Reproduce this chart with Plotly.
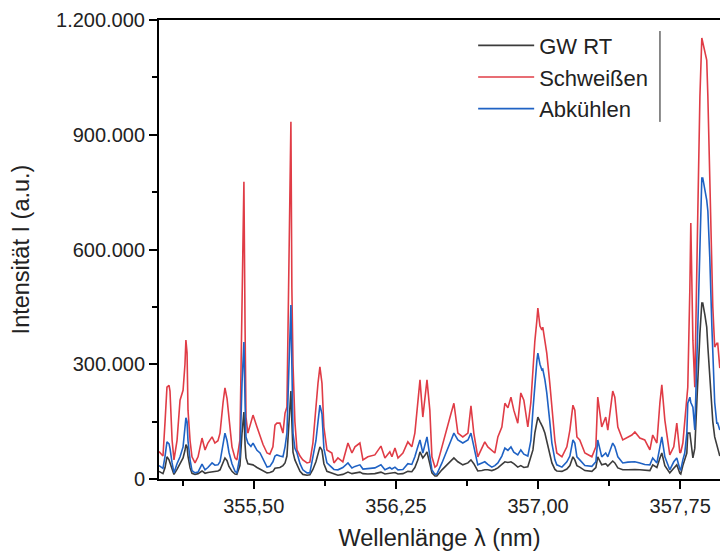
import plotly.graph_objects as go
import numpy as np

# Wavelength grid (nm)
wavelength = [
    355.000, 355.011, 355.021, 355.032, 355.042, 355.053, 355.058, 355.069, 355.079, 355.095,
    355.111, 355.127, 355.137, 355.142, 355.148, 355.153, 355.164, 355.174, 355.190, 355.206,
    355.227, 355.243, 355.258, 355.280, 355.295, 355.311, 355.322, 355.338, 355.348, 355.359,
    355.369, 355.385, 355.401, 355.411, 355.427, 355.438, 355.448, 355.454, 355.459, 355.469,
    355.485, 355.496, 355.517, 355.533, 355.549, 355.570, 355.585, 355.601, 355.612, 355.622,
    355.638, 355.654, 355.665, 355.675, 355.686, 355.696, 355.701, 355.707, 355.717, 355.728,
    355.744, 355.759, 355.781, 355.796, 355.812, 355.828, 355.839, 355.849, 355.860, 355.870,
    355.886, 355.912, 355.923, 355.944, 355.970, 355.997, 356.018, 356.034, 356.060, 356.076,
    356.102, 356.139, 356.171, 356.192, 356.218, 356.229, 356.245, 356.261, 356.287, 356.313,
    356.334, 356.350, 356.366, 356.377, 356.392, 356.403, 356.414, 356.429, 356.440, 356.456,
    356.466, 356.493, 356.524, 356.540, 356.556, 356.577, 356.603, 356.630, 356.646, 356.661,
    356.682, 356.704, 356.719, 356.735, 356.756, 356.772, 356.788, 356.809, 356.825, 356.841,
    356.857, 356.872, 356.893, 356.909, 356.925, 356.946, 356.962, 356.973, 356.983, 356.994,
    356.999, 357.010, 357.020, 357.025, 357.036, 357.046, 357.062, 357.073, 357.089, 357.099,
    357.126, 357.152, 357.168, 357.184, 357.194, 357.205, 357.220, 357.247, 357.284, 357.305,
    357.315, 357.336, 357.357, 357.368, 357.394, 357.405, 357.421, 357.447, 357.474, 357.495,
    357.511, 357.537, 357.563, 357.590, 357.605, 357.627, 357.643, 357.653, 357.669, 357.695,
    357.716, 357.732, 357.748, 357.753, 357.764, 357.774, 357.785, 357.790, 357.801, 357.806,
    357.817, 357.827, 357.843, 357.854, 357.864, 357.869, 357.880, 357.890, 357.896, 357.906,
    357.917, 357.922, 357.932, 357.943, 357.948, 357.959,
]

# Intensities in thousands of counts
gw_rt_k = [
    20, 16, 14, 30, 58, 50, 42, 29, 12, 25,
    42, 55, 75, 90, 85, 60, 29, 15, 12, 14,
    21, 15, 17, 18, 20, 21, 24, 45, 55, 48,
    33, 20, 13, 12, 35, 120, 175, 90, 55, 40,
    38, 37, 30, 26, 20, 16, 17, 20, 28, 29,
    30, 35, 42, 60, 160, 230, 150, 70, 50, 37,
    20, 12, 10, 11, 25, 45, 65, 84, 75, 40,
    20, 15, 12, 10, 12, 18, 14, 16, 18, 14,
    13, 14, 18, 13, 15, 14, 17, 13, 14, 20,
    19, 30, 50, 71, 55, 62, 71, 40, 16, 8,
    8, 24, 40, 48, 55, 45, 37, 42, 50, 40,
    21, 22, 24, 24, 22, 25, 29, 38, 45, 43,
    45, 40, 31, 35, 30, 32, 60, 76, 120, 150,
    162, 150, 141, 135, 120, 97, 65, 42, 25, 21,
    20, 26, 35, 58, 50, 35, 31, 22, 20, 30,
    58, 37, 40, 34, 47, 42, 29, 24, 24, 25,
    25, 24, 23, 22, 37, 30, 55, 68, 35, 16,
    28, 37, 15, 13, 35, 50, 68, 120, 120, 100,
    55, 80, 277, 380, 460, 460, 430, 397, 345, 277,
    206, 150, 110, 90, 84, 60,
]

schweissen_k = [
    72, 65, 60, 150, 240, 245, 230, 102, 50, 100,
    206, 232, 300, 363, 330, 180, 100, 58, 42, 58,
    107, 76, 94, 110, 94, 100, 120, 200, 238, 210,
    160, 84, 55, 50, 102, 500, 777, 400, 162, 120,
    150, 167, 136, 110, 90, 68, 65, 84, 141, 146,
    146, 120, 172, 188, 600, 934, 500, 300, 150, 76,
    60, 50, 42, 44, 94, 200, 251, 293, 250, 136,
    76, 68, 42, 55, 45, 94, 68, 84, 94, 50,
    58, 63, 86, 55, 71, 58, 81, 55, 68, 97,
    84, 120, 200, 259, 162, 220, 259, 180, 58, 31,
    35, 84, 146, 170, 198, 120, 110, 120, 191, 120,
    58, 84, 97, 84, 76, 68, 110, 136, 198, 186,
    214, 180, 146, 225, 206, 136, 200, 293, 360, 416,
    447, 400, 390, 397, 360, 329, 250, 180, 100, 68,
    58, 84, 128, 193, 180, 110, 102, 68, 58, 84,
    214, 136, 162, 128, 230, 214, 136, 102, 110, 115,
    123, 107, 102, 76, 115, 94, 200, 246, 154, 63,
    84, 146, 68, 70, 94, 150, 206, 240, 500, 669,
    363, 240, 700, 1000, 1153, 1140, 1120, 1095, 1000, 800,
    550, 450, 345, 355, 355, 290,
]

abkuehlen_k = [
    35, 30, 28, 60, 97, 92, 80, 42, 16, 40,
    58, 84, 130, 160, 150, 100, 50, 22, 16, 18,
    39, 24, 30, 42, 36, 37, 45, 95, 120, 100,
    70, 40, 20, 16, 60, 250, 358, 200, 110, 94,
    85, 94, 75, 68, 50, 31, 33, 45, 60, 63,
    60, 58, 84, 120, 300, 455, 300, 120, 80, 68,
    40, 24, 16, 16, 58, 100, 150, 193, 170, 80,
    42, 31, 25, 24, 30, 42, 29, 33, 37, 26,
    27, 29, 37, 24, 30, 26, 31, 24, 25, 40,
    38, 58, 85, 102, 68, 90, 110, 60, 24, 12,
    13, 42, 84, 100, 120, 102, 94, 102, 120, 84,
    37, 42, 45, 38, 31, 35, 42, 60, 81, 75,
    84, 70, 63, 76, 65, 60, 100, 180, 251, 310,
    329, 300, 285, 287, 260, 225, 150, 94, 50, 37,
    31, 45, 60, 102, 94, 58, 50, 35, 33, 45,
    102, 58, 68, 58, 94, 85, 58, 42, 44, 45,
    45, 42, 38, 37, 55, 42, 90, 110, 58, 24,
    45, 55, 26, 24, 50, 68, 120, 198, 214, 200,
    188, 128, 400, 625, 787, 787, 760, 729, 700, 580,
    400, 319, 200, 146, 146, 128,
]

series = [
    ("GW RT", gw_rt_k, "#3c3c3c"),
    ("Schweißen", schweissen_k, "#e03c46"),
    ("Abkühlen", abkuehlen_k, "#1f62c4"),
]

font_family = "Arial, 'Liberation Sans', sans-serif"
text_color = "#222222"

fig = go.Figure()
for name, vals, color in series:
    fig.add_trace(go.Scatter(
        x=wavelength,
        y=np.array(vals) * 1000,
        mode="lines",
        name=name,
        line=dict(color=color, width=1.6),
    ))

axis_common = dict(
    showgrid=False,
    zeroline=False,
    showline=True,
    linecolor="black",
    linewidth=2,
    ticks="outside",
    ticklen=8,
    tickwidth=1.5,
    tickcolor="black",
    tickfont=dict(family=font_family, size=20, color=text_color),
)

fig.update_layout(
    width=720,
    height=553,
    margin=dict(l=159, r=0, t=20, b=74),
    paper_bgcolor="white",
    plot_bgcolor="white",
    separators=",.",
    font=dict(family=font_family, color=text_color),
    xaxis=dict(
        range=[355.0, 357.96],
        tick0=355.5,
        dtick=0.75,
        tickformat=".2f",
        mirror=True,
        minor=dict(ticks="outside", tick0=355.125, dtick=0.375, ticklen=5,
                   tickwidth=1.5, tickcolor="black"),
        title=dict(text="Wellenlänge λ (nm)", font=dict(size=23.5), standoff=14),
        **axis_common,
    ),
    yaxis=dict(
        range=[0, 1200000],
        tick0=0,
        dtick=300000,
        tickformat=",d",
        minor=dict(ticks="outside", tick0=0, dtick=150000, ticklen=5,
                   tickwidth=1.5, tickcolor="black"),
        title=dict(text="Intensität I (a.u.)", font=dict(size=23.5), standoff=20),
        **axis_common,
    ),
    legend=dict(
        x=0.56,
        y=0.99,
        xanchor="left",
        yanchor="top",
        bgcolor="rgba(0,0,0,0)",
        font=dict(family=font_family, size=22, color=text_color),
        itemwidth=56,
        tracegroupgap=0,
    ),
    shapes=[
        dict(type="line", xref="paper", yref="paper",
             x0=0.893, x1=0.893, y0=0.778, y1=0.976,
             line=dict(color="#1a1a1a", width=1)),
    ],
)

fig.write_html("out.html")
